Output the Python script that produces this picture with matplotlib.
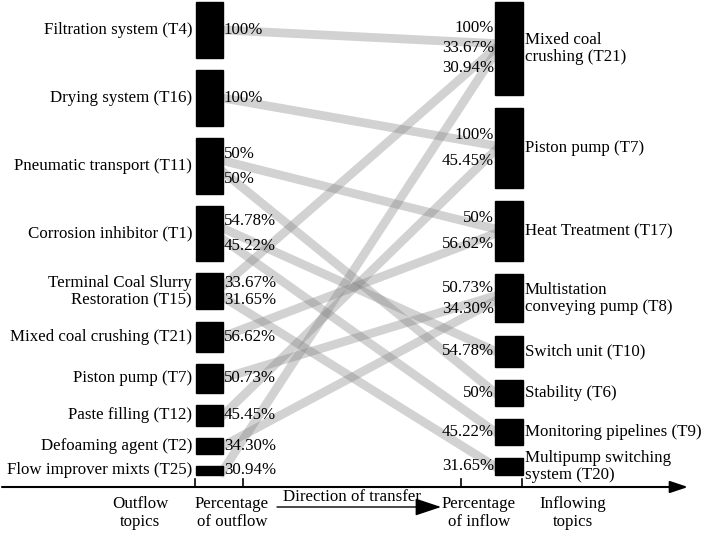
import numpy as np
import matplotlib
matplotlib.use("Agg")
import matplotlib.pyplot as plt

plt.rcParams['font.family'] = ['Liberation Serif', 'DejaVu Serif']

# outflow topics (left column) and their bar sizes
left_topics = ["Filtration system (T4)", "Drying system (T16)", "Pneumatic transport (T11)",
               "Corrosion inhibitor (T1)", "Terminal Coal Slurry\nRestoration (T15)",
               "Mixed coal crushing (T21)", "Piston pump (T7)", "Paste filling (T12)",
               "Defoaming agent (T2)", "Flow improver mixts (T25)"]
left_sizes = [56, 56, 56, 55, 36, 30, 29, 21, 16, 9]

# inflowing topics (right column)
right_topics = ["Mixed coal\ncrushing (T21)", "Piston pump (T7)", "Heat Treatment (T17)",
                "Multistation\nconveying pump (T8)", "Switch unit (T10)", "Stability (T6)",
                "Monitoring pipelines (T9)", "Multipump switching\nsystem (T20)"]
right_sizes = [93, 80, 60, 48, 31, 26, 26, 17]

# transfers: source index -> target index, with percentage
flow_src = [0, 1, 2, 2, 3, 3, 4, 4, 5, 6, 7, 8, 9]
flow_dst = [0, 1, 2, 5, 4, 6, 0, 7, 2, 3, 1, 3, 0]
flow_pct = ["100%", "100%", "50%", "50%", "54.78%", "45.22%", "33.67%", "31.65%",
            "56.62%", "50.73%", "45.45%", "34.30%", "30.94%"]

W, H = 706, 533
fig = plt.figure(figsize=(W / 100, H / 100), dpi=100)
ax = fig.add_axes([0, 0, 1, 1])
ax.set_xlim(0, W)
ax.set_ylim(H, 0)
ax.axis('off')

top, bottom = 2, 475
lx0, lx1 = 196, 223
rx0, rx1 = 495, 523


def stack(sizes):
    gap = (bottom - top - sum(sizes)) / (len(sizes) - 1)
    starts = top + np.concatenate([[0], np.cumsum(np.array(sizes[:-1]) + gap)])
    return starts, np.array(sizes, dtype=float)


l_start, l_h = stack(left_sizes)
r_start, r_h = stack(right_sizes)
l_mid = l_start + l_h / 2
r_mid = r_start + r_h / 2


def slots(node_list, mids, heights, band_sp, lab_sp_fn):
    band_y, lab_y = {}, {}
    for node in range(len(mids)):
        idx = [i for i, n in enumerate(node_list) if n == node]
        n = len(idx)
        for k, i in enumerate(idx):
            off = k - (n - 1) / 2
            band_y[i] = mids[node] + off * band_sp
            lab_y[i] = mids[node] + off * lab_sp_fn(heights[node], n)
    return band_y, lab_y


def lab_space(h, n):
    if n >= 3:
        return 20
    return min(26, 0.45 * h)


lb_y, ll_y = slots(flow_src, l_mid, l_h, 11, lab_space)
rb_y, rl_y = slots(flow_dst, r_mid, r_h, 5, lab_space)

# grey transfer bands
for i in range(len(flow_pct)):
    p0 = np.array([lx1, lb_y[i]])
    p1 = np.array([rx0, rb_y[i]])
    d = (p1 - p0) / np.linalg.norm(p1 - p0)
    a, b = p0 - 6 * d, p1 + 6 * d
    ax.plot([a[0], b[0]], [a[1], b[1]], color='#808080', alpha=0.35, lw=6.3,
            solid_capstyle='butt', zorder=1)

# bars
for s, h in zip(l_start, l_h):
    ax.add_patch(plt.Rectangle((lx0, s), lx1 - lx0, h, color='black', zorder=3))
for s, h in zip(r_start, r_h):
    ax.add_patch(plt.Rectangle((rx0, s), rx1 - rx0, h, color='black', zorder=3))

fs = 12.2
for name, m in zip(left_topics, l_mid):
    ax.text(192, m, name, ha='right', va='center', fontsize=fs, linespacing=1.15)
for name, m in zip(right_topics, r_mid):
    ax.text(525, m, name, ha='left', va='center', fontsize=fs, linespacing=1.15)

for i, p in enumerate(flow_pct):
    ax.text(224, ll_y[i], p, ha='left', va='center', fontsize=fs)
    ax.text(494, rl_y[i], p, ha='right', va='center', fontsize=fs)

# bottom axis with arrow and ticks
ax.annotate("", xy=(688, 487), xytext=(2, 487),
            arrowprops=dict(arrowstyle='-|>,head_length=0.6,head_width=0.2',
                            mutation_scale=18, lw=1.5, color='black',
                            shrinkA=0, shrinkB=0))
for tx in [195, 243, 461, 522]:
    ax.plot([tx, tx], [479, 487], color='black', lw=1.2)

ax.text(140, 513, "Outflow\ntopics", ha='center', va='center', fontsize=fs, linespacing=1.15)
ax.text(232, 513, "Percentage\nof outflow", ha='center', va='center', fontsize=fs, linespacing=1.15)
ax.text(352, 497, "Direction of transfer", ha='center', va='center', fontsize=fs)
ax.annotate("", xy=(441, 507), xytext=(277, 507),
            arrowprops=dict(arrowstyle='-|>,head_length=0.9,head_width=0.3',
                            mutation_scale=18, lw=1.0, color='black',
                            shrinkA=0, shrinkB=0))
ax.text(479, 513, "Percentage\nof inflow", ha='center', va='center', fontsize=fs, linespacing=1.15)
ax.text(573, 513, "Inflowing\ntopics", ha='center', va='center', fontsize=fs, linespacing=1.15)

fig.savefig("out.png", dpi=100)
